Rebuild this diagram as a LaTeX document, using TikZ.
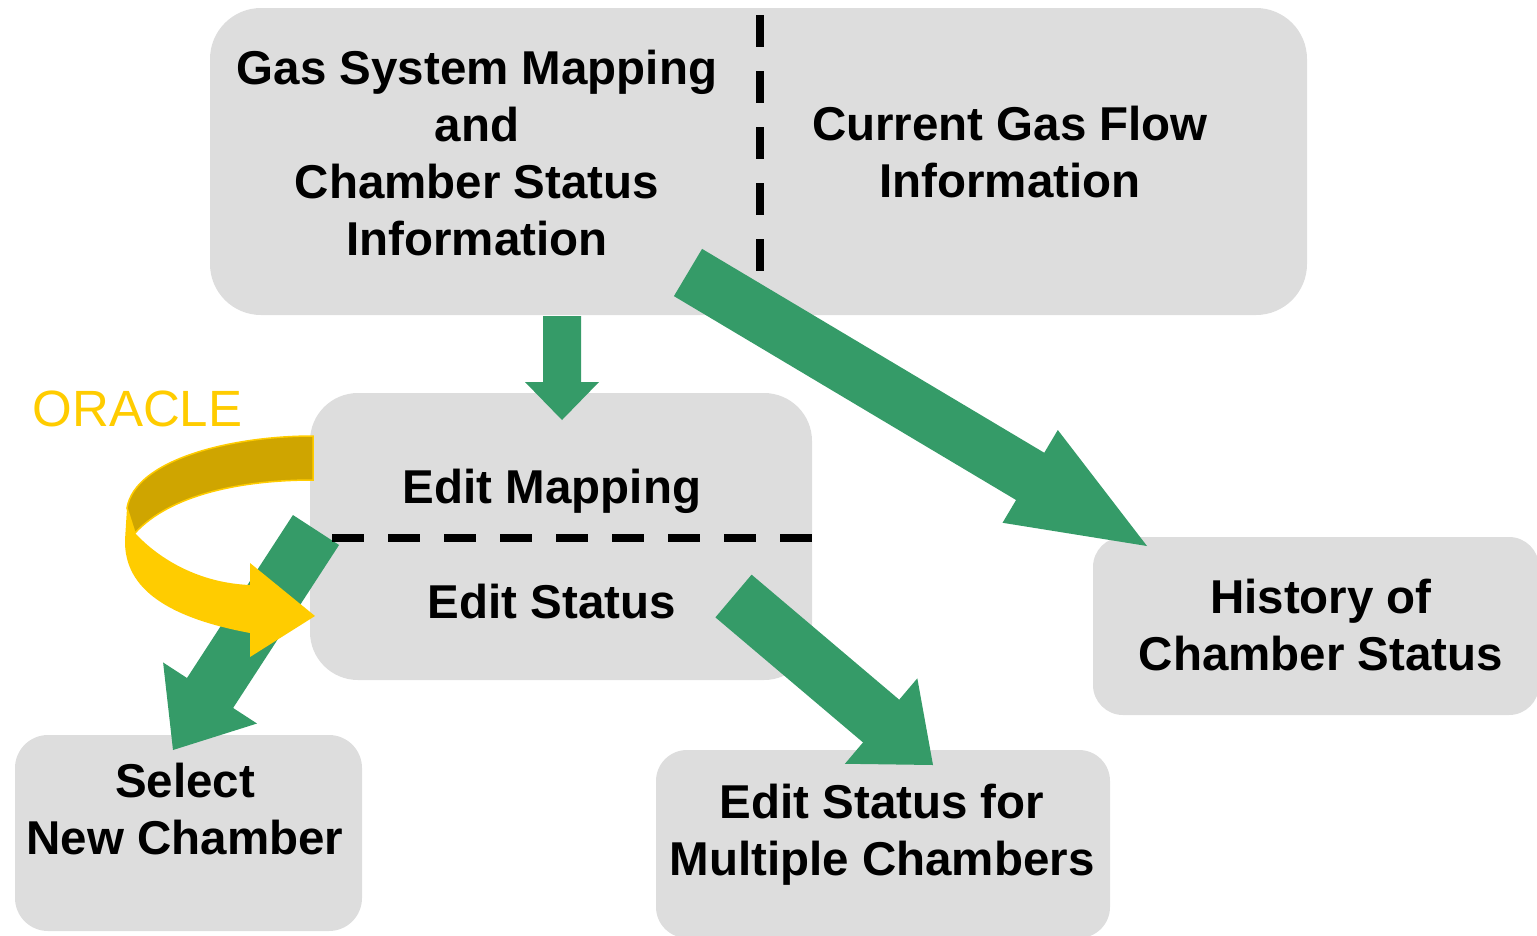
\documentclass[tikz,border=0pt]{standalone}
\usepackage{fontspec}
\setmainfont{Liberation Sans}
\usetikzlibrary{calc}
\definecolor{boxgray}{HTML}{DDDDDD}
\definecolor{arrowgreen}{HTML}{359B68}
\definecolor{oryellow}{HTML}{FFCC00}
\definecolor{ordark}{HTML}{CFA500}
% #1 tail, #2 tip, #3 half shaft width, #4 half head width, #5 head length
\newcommand{\blockarrow}[5]{%
  \path ($(#2)!#5!(#1)$) coordinate (hb);
  \fill[arrowgreen] ($(#1)!#3!90:(#2)$) -- ($(hb)!#3!90:(#2)$) -- ($(hb)!#4!90:(#2)$)
    -- (#2) -- ($(hb)!#4!-90:(#2)$) -- ($(hb)!#3!-90:(#2)$) -- ($(#1)!#3!-90:(#2)$) -- cycle;}
\begin{document}
\begin{tikzpicture}[x=1pt,y=-1pt,
  box/.style={fill=boxgray, inner sep=0pt, outer sep=0pt},
  lbl/.style={font=\bfseries\fontsize{47.5}{57}\selectfont, align=center, anchor=base, inner sep=0pt},
  divider/.style={line width=8pt, dash pattern=on 32pt off 24pt}]
\useasboundingbox (0,0) rectangle (1537,935);
% boxes
\node[box, minimum width=1097pt, minimum height=307pt, rounded corners=51pt] (top) at (758.5,161.5) {};
\node[box, minimum width=502pt, minimum height=287pt, rounded corners=48pt] (edit) at (561,536.5) {};
\node[box, minimum width=446pt, minimum height=178pt, rounded corners=30pt] (hist) at (1316,626) {};
\node[box, minimum width=347pt, minimum height=196pt, rounded corners=33pt] (sel) at (188.5,833) {};
\node[box, minimum width=454pt, minimum height=188pt, rounded corners=31pt] (multi) at (883,844) {};
% arrow ends
\coordinate (a1s) at (562,316);   \coordinate (a1e) at (562,420);
\coordinate (a2s) at (688,272.5); \coordinate (a2e) at (1147,546);
\coordinate (a3s) at (316,530);   \coordinate (a3e) at (173,750);
\coordinate (a4s) at (733.5,596); \coordinate (a4e) at (933,765);
\blockarrow{a1s}{a1e}{19pt}{37pt}{38pt}
\blockarrow{a2s}{a2e}{27.5pt}{54pt}{136pt}
\blockarrow{a3s}{a3e}{27.5pt}{56pt}{68pt}
\blockarrow{a4s}{a4e}{28pt}{56pt}{68pt}
% dividers
\coordinate (v1) at (760,15);  \coordinate (v2) at (760,271);
\coordinate (h1) at (332,538); \coordinate (h2) at (812,538);
\draw[divider] (v1) -- (v2);
\draw[divider] (h1) -- (h2);
% texts (base = baseline of the last line)
\node[lbl] (tgas) at (477,255) {Gas System Mapping\\and\\Chamber Status\\Information};
\node[lbl] (tflow) at (1010,197) {Current Gas Flow\\Information};
\node[lbl] (tmap) at (552,503) {Edit Mapping};
\node[lbl] (tstat) at (552,618) {Edit Status};
\node[lbl] (thist) at (1321,670) {History of\\Chamber Status};
\node[lbl] (tsel) at (185,854) {Select\\New Chamber};
\node[lbl] (tmulti) at (882,875) {Edit Status for\\Multiple Chambers};
% oracle loop arrow
\fill[ordark, draw=oryellow, line width=1.5pt] (313,436) .. controls (230,436) and (135,460) .. (127,508)
  -- (135,533) .. controls (170,495) and (240,480) .. (313,480) -- cycle;
\fill[oryellow] (127,508) -- (135,533) .. controls (160,560) and (200,583) .. (250,585)
  -- (250,563) -- (315,616) -- (250,657) -- (250,633)
  .. controls (170,618) and (124,590) .. (125,540) -- cycle;
\node[font=\fontsize{51}{57}\selectfont, text=oryellow, anchor=base, inner sep=0pt] (oracle) at (137.5,426.5) {ORACLE};
\end{tikzpicture}
\end{document}
